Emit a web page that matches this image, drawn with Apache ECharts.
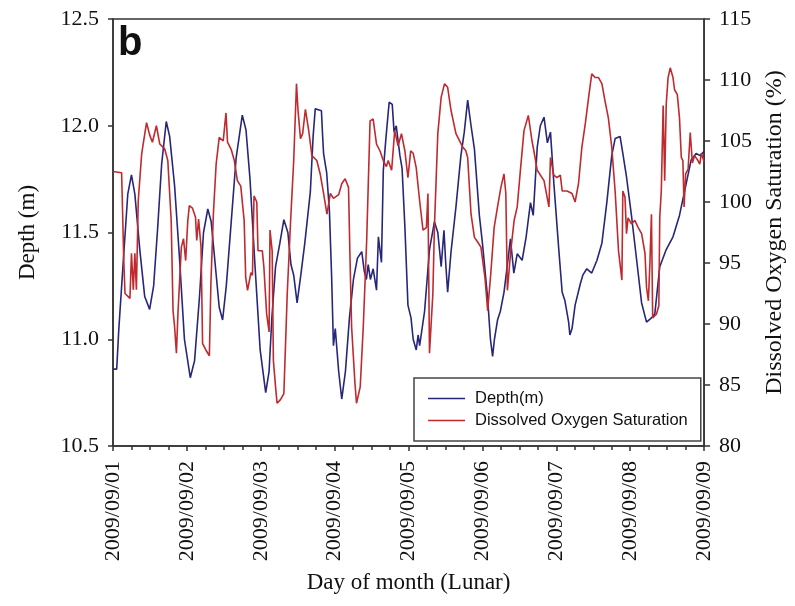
<!DOCTYPE html>
<html>
<head>
<meta charset="utf-8">
<script src="https://cdn.jsdelivr.net/npm/echarts@6/dist/echarts.min.js"></script>
<style>
html,body{margin:0;padding:0;background:#fff;}
#chart{width:795px;height:606px;}
</style>
</head>
<body>
<div id="chart"></div>
<script>
// Hours since 2009/09/01 00:00 and depth (m)
var depthHours = [0,1.2,1.9,3.5,4.8,6.0,7.1,8.7,10.3,11.9,13.2,14.5,15.8,17.3,18.4,20.0,21.6,23.2,25.1,26.5,28.1,29.4,30.8,31.9,33.2,34.5,35.6,36.8,38.4,40.0,42.0,43.2,44.5,46.1,47.8,49.6,50.7,51.6,52.8,54.2,55.5,56.8,57.8,58.7,59.8,61.0,62.3,64.1,65.0,65.7,67.7,68.1,68.4,69.4,70.3,71.0,71.6,72.2,73.3,74.3,75.5,76.8,78.1,79.4,80.8,81.6,82.3,82.9,83.6,84.5,85.6,86.2,87.2,87.8,88.7,89.7,90.7,91.3,92.0,93.2,93.9,94.8,95.8,96.8,97.5,98.5,99.1,99.6,101.2,102.8,104.4,105.5,106.6,107.5,108.1,108.7,109.8,111.4,113.0,114.1,115.2,116.3,117.4,119.0,120.0,121.7,122.6,123.3,123.9,124.9,125.8,127.0,128.1,129.1,130.2,131.3,132.9,134.2,135.6,136.5,137.8,138.8,140.0,141.1,142.1,143.2,144.8,145.9,146.8,148.0,148.4,149.1,150.1,151.8,152.6,153.9,155.5,157.2,158.8,160.4,162.0,163.1,164.7,165.5,166.8,168.4,170.1,171.7,173.3,174.9,176.0,177.6,179.7,181.9,184.0,186.2,187.8,189.4,190.7,192.0];
var depthValues = [10.86,10.86,11.05,11.40,11.68,11.77,11.68,11.42,11.20,11.14,11.25,11.52,11.82,12.02,11.95,11.72,11.38,11.00,10.82,10.90,11.20,11.50,11.61,11.55,11.35,11.15,11.09,11.25,11.55,11.85,12.05,11.98,11.75,11.35,10.95,10.75,10.85,11.10,11.34,11.45,11.56,11.50,11.35,11.30,11.17,11.30,11.45,11.69,11.95,12.08,12.07,11.95,11.87,11.78,11.60,11.30,10.97,11.05,10.85,10.72,10.85,11.10,11.28,11.38,11.41,11.32,11.28,11.35,11.28,11.33,11.23,11.48,11.36,11.79,11.95,12.11,12.10,11.97,12.00,11.86,11.80,11.53,11.16,11.10,11.00,10.95,11.02,10.97,11.13,11.42,11.55,11.50,11.34,11.51,11.35,11.22,11.41,11.62,11.86,11.97,12.12,12.00,11.89,11.58,11.45,11.19,11.00,10.92,11.00,11.09,11.13,11.22,11.35,11.47,11.31,11.40,11.37,11.48,11.64,11.58,11.90,12.00,12.04,11.92,11.97,11.73,11.42,11.22,11.18,11.08,11.02,11.05,11.16,11.26,11.30,11.33,11.31,11.37,11.45,11.64,11.86,11.94,11.95,11.88,11.76,11.58,11.37,11.17,11.08,11.10,11.12,11.34,11.42,11.48,11.58,11.73,11.84,11.87,11.86,11.88];

// Hours since 2009/09/01 00:00 and dissolved oxygen saturation (%)
var oxygenHours = [0,2.8,3.1,3.5,3.9,5.5,6.0,6.6,7.1,7.6,8.2,9.3,9.8,10.9,11.9,12.8,14.1,15.2,16.8,17.8,18.9,19.5,20.0,20.6,21.1,21.6,22.2,22.9,23.6,24.3,24.8,25.8,26.8,27.2,27.8,28.6,29.1,30.2,31.3,31.8,32.6,33.5,34.5,35.8,36.7,37.2,38.4,39.4,40.4,41.5,42.6,43.1,43.7,44.8,45.3,45.8,46.7,47.1,48.5,49.0,49.9,50.7,51.0,51.7,52.1,52.8,53.3,54.4,55.5,56.6,57.7,58.7,59.6,60.1,60.9,61.6,62.5,63.6,64.6,66.2,67.3,68.4,69.5,70.6,71.6,73.3,74.3,75.4,76.5,77.0,77.5,78.6,79.1,80.3,81.3,82.4,83.5,84.5,85.6,86.7,87.8,88.8,89.4,90.5,91.5,92.6,93.7,94.8,95.8,96.7,97.5,98.5,99.6,100.7,101.8,102.3,102.8,103.4,103.9,104.4,105.5,106.6,107.7,108.7,109.8,111.4,113.6,114.6,115.2,116.3,117.4,118.5,119.5,120.8,121.7,122.7,123.8,124.9,126.0,127.0,127.6,128.1,129.2,130.3,131.3,132.4,133.5,134.9,136.1,136.7,137.8,140.0,141.6,142.1,143.2,144.2,145.3,145.9,147.5,149.1,150.1,151.2,152.3,153.4,154.5,155.5,156.6,157.7,158.8,159.8,160.9,162.0,163.1,164.2,165.3,165.6,166.3,166.8,167.3,168.4,169.5,170.6,171.7,172.8,173.3,173.9,174.4,174.9,175.3,175.7,176.5,177.3,177.6,178.1,178.7,179.2,179.7,180.3,181.0,181.9,182.4,183.3,184.0,184.6,185.1,185.5,186.0,186.8,187.5,188.2,188.9,190.0,190.6,191.1,192.0];
var oxygenValues = [102.5,102.4,99.3,95.2,92.5,92.1,95.8,92.8,95.8,92.8,100.1,103.9,104.75,106.5,105.5,104.9,106.25,104.75,104.35,103.4,98.5,91.1,89.8,87.6,90.9,90.9,96.3,97.0,95.2,98.5,99.7,99.5,98.75,96.85,98.6,96.3,88.4,87.85,87.4,93.3,99.0,103.1,105.3,105.0,107.3,104.9,104.3,103.4,101.75,101.3,98.5,93.85,92.76,94.2,94.0,100.5,100.0,96.0,96.0,94.7,90.85,89.35,97.7,96.0,87.0,84.85,83.5,83.8,84.3,92.5,98.5,103.4,109.7,107.5,105.2,105.6,107.6,105.8,103.8,103.4,102.3,100.7,99.0,100.7,100.3,100.6,101.5,101.9,101.2,95.2,89.8,85.1,83.5,84.85,89.8,96.85,106.65,106.8,104.75,104.2,103.4,102.9,103.4,102.6,105.85,104.6,105.6,104.2,102.0,104.2,104.0,102.8,100.1,97.7,97.9,100.7,87.6,87.6,92.5,97.9,105.6,108.6,109.7,109.4,107.5,105.6,104.5,104.2,103.65,99.0,97.1,96.7,96.3,93.85,91.1,94.1,97.9,99.6,101.2,102.3,100.7,92.76,96.0,98.5,99.6,102.8,105.85,107.1,105.0,104.2,102.6,101.75,99.6,103.65,102.2,102.0,102.2,100.9,100.9,100.7,100.0,101.5,104.5,106.4,108.6,110.5,110.2,110.2,109.7,108.3,106.9,104.5,100.9,96.0,93.6,100.9,100.4,97.4,98.7,98.2,98.5,97.9,97.4,95.8,93.0,91.9,95.0,99.0,90.5,90.6,90.8,91.5,98.75,100.9,107.9,101.75,108.0,110.2,111.0,110.2,109.2,108.8,106.9,103.65,103.4,99.6,102.3,102.7,105.7,103.2,103.8,103.4,103.1,104.0,103.3];

var dateLabels = ['2009/09/01','2009/09/02','2009/09/03','2009/09/04','2009/09/05','2009/09/06','2009/09/07','2009/09/08','2009/09/09'];
var seriesNames = ['Depth(m)', 'Dissolved Oxygen Saturation'];

function pairs(xs, ys) { return xs.map(function (x, i) { return [x, ys[i]]; }); }

var serif = '"Liberation Serif", "Times New Roman", serif';
var sans = '"Liberation Sans", Arial, sans-serif';
var axisCol = '#333';
var blue = '#27277a';
var red = '#bf2a2f';

var chart = echarts.init(document.getElementById('chart'), null, {renderer: 'canvas'});
chart.setOption({
  animation: false,
  backgroundColor: '#fff',
  grid: {left: 113, right: 87, top: 19, bottom: 160, show: true, borderColor: axisCol, borderWidth: 1.5, backgroundColor: 'transparent'},
  graphic: [{
    type: 'text', left: 118, top: 24,
    style: {text: 'b', font: 'bold 40px ' + sans, fill: '#111'}
  }],
  legend: {
    left: 414, top: 378, orient: 'vertical',
    data: [
      {name: seriesNames[0], icon: 'rect', itemStyle: {color: blue}},
      {name: seriesNames[1], icon: 'rect', itemStyle: {color: red}}
    ],
    itemWidth: 37, itemHeight: 1.6, itemGap: 5,
    padding: [12, 13, 12, 14],
    borderColor: '#444', borderWidth: 1.5,
    textStyle: {fontFamily: sans, fontSize: 16.5, color: '#111', lineHeight: 16, padding: [0, 0, 0, 5]}
  },
  xAxis: {
    type: 'value', min: 0, max: 192, interval: 24,
    axisLine: {show: true, onZero: false, lineStyle: {color: axisCol, width: 1.5}},
    axisTick: {show: true, inside: false, length: 5, lineStyle: {color: axisCol, width: 1.5}},
    minorTick: {show: true, splitNumber: 4, length: 4, lineStyle: {color: axisCol, width: 1.5}},
    splitLine: {show: false},
    axisLabel: {
      rotate: 90, margin: 15, fontFamily: serif, fontSize: 22, color: '#111',
      formatter: function (v) { return dateLabels[Math.round(v / 24)]; }
    },
    name: 'Day of month (Lunar)', nameLocation: 'middle', nameGap: 125,
    nameTextStyle: {fontFamily: serif, fontSize: 23, color: '#111'}
  },
  yAxis: [{
    type: 'value', min: 10.5, max: 12.5, interval: 0.5, position: 'left',
    axisLine: {show: true, lineStyle: {color: axisCol, width: 1.5}},
    axisTick: {show: true, length: 5, lineStyle: {color: axisCol, width: 1.5}},
    splitLine: {show: false},
    axisLabel: {margin: 14, fontFamily: serif, fontSize: 22, color: '#111', formatter: function (v) { return v.toFixed(1); }},
    name: 'Depth (m)', nameLocation: 'middle', nameGap: 74,
    nameTextStyle: {fontFamily: serif, fontSize: 23, color: '#111'}
  }, {
    type: 'value', min: 80, max: 115, interval: 5, position: 'right',
    axisLine: {show: true, lineStyle: {color: axisCol, width: 1.5}},
    axisTick: {show: true, length: 6, lineStyle: {color: axisCol, width: 1.5}},
    splitLine: {show: false},
    axisLabel: {margin: 15, fontFamily: serif, fontSize: 22, color: '#111'},
    name: 'Dissolved Oxygen Saturation (%)', nameLocation: 'middle', nameGap: 57,
    nameTextStyle: {fontFamily: serif, fontSize: 24, color: '#111', padding: [0, 0, 0, 0]}
  }],
  series: [{
    name: seriesNames[0], type: 'line', yAxisIndex: 0, symbol: 'none',
    lineStyle: {color: blue, width: 1.6}, itemStyle: {color: blue},
    data: pairs(depthHours, depthValues)
  }, {
    name: seriesNames[1], type: 'line', yAxisIndex: 1, symbol: 'none',
    lineStyle: {color: red, width: 1.6}, itemStyle: {color: red},
    data: pairs(oxygenHours, oxygenValues)
  }]
});
</script>
</body>
</html>
